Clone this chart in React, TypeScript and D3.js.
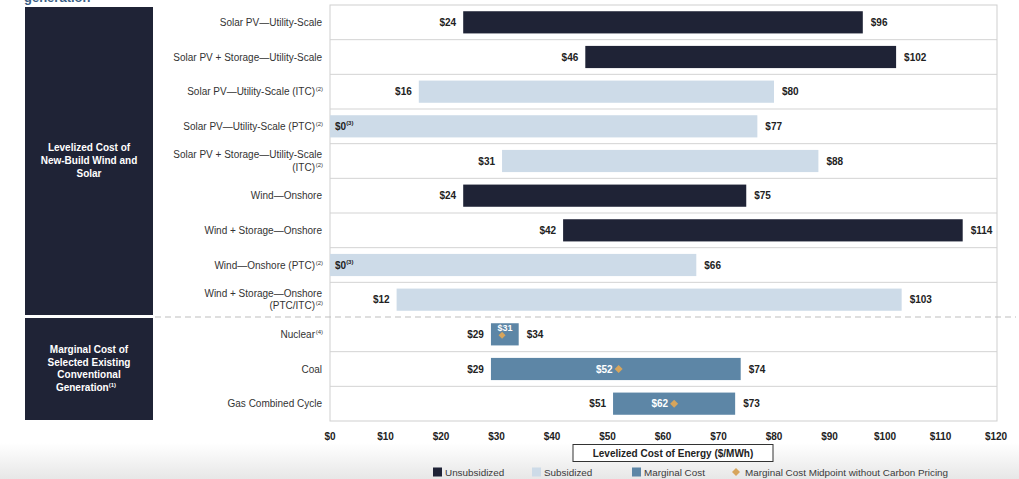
import React from "react";
import * as d3 from "d3";

const categories = [
  "Solar PV—Utility-Scale",
  "Solar PV + Storage—Utility-Scale",
  "Solar PV—Utility-Scale (ITC)",
  "Solar PV—Utility-Scale (PTC)",
  "Solar PV + Storage—Utility-Scale (ITC)",
  "Wind—Onshore",
  "Wind + Storage—Onshore",
  "Wind—Onshore (PTC)",
  "Wind + Storage—Onshore (PTC/ITC)",
  "Nuclear",
  "Coal",
  "Gas Combined Cycle",
];
// display lines and footnote for each label
const labelLines: string[][] = [
  ["Solar PV—Utility-Scale"],
  ["Solar PV + Storage—Utility-Scale"],
  ["Solar PV—Utility-Scale (ITC)"],
  ["Solar PV—Utility-Scale (PTC)"],
  ["Solar PV + Storage—Utility-Scale", "(ITC)"],
  ["Wind—Onshore"],
  ["Wind + Storage—Onshore"],
  ["Wind—Onshore (PTC)"],
  ["Wind + Storage—Onshore", "(PTC/ITC)"],
  ["Nuclear"],
  ["Coal"],
  ["Gas Combined Cycle"],
];
const labelNotes = ["", "", "(2)", "(2)", "(2)", "", "", "(2)", "(2)", "(4)", "", ""];
const lows = [24, 46, 16, 0, 31, 24, 42, 0, 12, 29, 29, 51];
const highs = [96, 102, 80, 77, 88, 75, 114, 66, 103, 34, 74, 73];
const lowNotes = ["", "", "", "(3)", "", "", "", "(3)", "", "", "", ""];
const types = ["unsub", "unsub", "sub", "sub", "sub", "unsub", "unsub", "sub", "sub", "marg", "marg", "marg"];
const midpoints: (number | null)[] = [null, null, null, null, null, null, null, null, null, 31, 52, 62];
const xTicks = [0, 10, 20, 30, 40, 50, 60, 70, 80, 90, 100, 110, 120];

const legendItems = [
  { key: "unsub", label: "Unsubsidized" },
  { key: "sub", label: "Subsidized" },
  { key: "marg", label: "Marginal Cost" },
  { key: "mid", label: "Marginal Cost Midpoint without Carbon Pricing" },
];

const colors: Record<string, string> = {
  unsub: "#1f2336",
  sub: "#cddbe8",
  marg: "#5d86a6",
  mid: "#d7a55c",
};

const FONT = "'Liberation Sans', Arial, sans-serif";

export default function App() {
  const W = 1019;
  const H = 479;
  const x = d3.scaleLinear().domain([0, 120]).range([330, 996]);
  const y = d3.scaleBand<string>().domain(categories).range([5, 421]).padding(0);
  const bw = y.bandwidth();
  const barH = bw * 0.64;
  const frameRight = 997;

  const diamond = (cx: number, cy: number, r = 4) =>
    `M${cx},${cy - r}L${cx + r},${cy}L${cx},${cy + r}L${cx - r},${cy}Z`;

  const sepIdx = 9; // dashed separator before this row
  const sepY = y(categories[sepIdx])!;

  return (
    <svg width={W} height={H} style={{ display: "block", position: "absolute", left: 0, top: 0 }} fontFamily={FONT}>
      <defs>
        <linearGradient id="bg" x1="0" y1="0" x2="0" y2="1">
          <stop offset="0" stopColor="#ffffff" />
          <stop offset="1" stopColor="#e7e7e7" />
        </linearGradient>
      </defs>
      <rect x={0} y={0} width={W} height={H} fill="#fff" />
      <rect x={0} y={443} width={W} height={H - 443} fill="url(#bg)" />

      {/* cut-off title */}
      <text x={24} y={2} fontSize={13} fontWeight="bold" fill="#3b5f86">generation</text>

      {/* left category boxes */}
      <rect x={25} y={7} width={128} height={sepY - 9} fill="#1f2336" />
      <rect x={25} y={sepY + 1} width={128} height={420 - sepY - 1} fill="#1f2336" />
      <text fill="#fff" fontSize={10} fontWeight="bold" textAnchor="middle">
        <tspan x={89} y={151}>Levelized Cost of</tspan>
        <tspan x={89} y={164}>New-Build Wind and</tspan>
        <tspan x={89} y={177}>Solar</tspan>
      </text>
      <text fill="#fff" fontSize={10} fontWeight="bold" textAnchor="middle">
        <tspan x={89} y={353}>Marginal Cost of</tspan>
        <tspan x={89} y={365.5}>Selected Existing</tspan>
        <tspan x={89} y={378}>Conventional</tspan>
        <tspan x={86} y={390.5}>Generation</tspan>
        <tspan fontSize={6} dy={-4}>(1)</tspan>
      </text>

      {/* frame */}
      <rect x={330} y={5} width={frameRight - 330} height={416} fill="none" stroke="#cfcfcf" strokeWidth={1} />
      {categories.map((c, i) =>
        i > 0 && i !== sepIdx ? (
          <line key={"sep" + i} x1={330} x2={frameRight} y1={y(c)!} y2={y(c)!} stroke="#d3d3d3" strokeWidth={1} />
        ) : null
      )}
      <line x1={155} x2={1016} y1={sepY} y2={sepY} stroke="#bdbdbd" strokeWidth={1.2} strokeDasharray="6,4" />

      {/* row labels */}
      {categories.map((c, i) => {
        const cy = y(c)! + bw / 2;
        const lines = labelLines[i];
        const lh = 12.5;
        const y0 = cy - ((lines.length - 1) * lh) / 2 + 3.5;
        return (
          <text key={"lbl" + i} textAnchor="end" fontSize={10} fill="#333">
            {lines.map((l, j) => (
              <tspan key={j} x={labelNotes[i] && j === lines.length - 1 ? 315 : 322} y={y0 + j * lh}>
                {l}
              </tspan>
            ))}
          </text>
        );
      })}
      {categories.map((c, i) => {
        if (!labelNotes[i]) return null;
        const cy = y(c)! + bw / 2;
        const lines = labelLines[i];
        const lh = 12.5;
        const y0 = cy - ((lines.length - 1) * lh) / 2 + 3.5 + (lines.length - 1) * lh;
        return (
          <text key={"note" + i} x={323} y={y0 - 4} fontSize={6} fill="#333" textAnchor="end">
            {labelNotes[i]}
          </text>
        );
      })}

      {/* bars */}
      {categories.map((c, i) => {
        const cy = y(c)! + bw / 2;
        const x0 = x(lows[i]);
        const x1 = x(highs[i]);
        return (
          <g key={"bar" + i}>
            <rect x={x0} y={cy - barH / 2} width={x1 - x0} height={barH} fill={colors[types[i]]} />
            {lows[i] === 0 ? (
              <text x={x0 + 5} y={cy + 3.5} fontSize={10} fontWeight="bold" fill="#222">
                ${lows[i]}
                <tspan fontSize={6} dy={-5}>{lowNotes[i]}</tspan>
              </text>
            ) : (
              <text x={x0 - 7} y={cy + 3.5} fontSize={10} fontWeight="bold" fill="#222" textAnchor="end">
                ${lows[i]}
              </text>
            )}
            <text x={x1 + 8} y={cy + 3.5} fontSize={10} fontWeight="bold" fill="#222">
              ${highs[i]}
            </text>
          </g>
        );
      })}

      {/* midpoints */}
      {categories.map((c, i) => {
        const m = midpoints[i];
        if (m === null) return null;
        const cy = y(c)! + bw / 2;
        const narrow = highs[i] - lows[i] < 10;
        return (
          <g key={"mid" + i}>
            {narrow ? (
              <>
                <path d={diamond(x(m), cy + 1, 3.5)} fill={colors.mid} />
                <text x={x(m) + 3} y={cy - 3} fontSize={9} fontWeight="bold" fill="#fff" textAnchor="middle">
                  ${m}
                </text>
              </>
            ) : (
              <>
                <path d={diamond(x(m), cy, 4)} fill={colors.mid} />
                <text x={x(m) - 6} y={cy + 3.5} fontSize={10} fontWeight="bold" fill="#fff" textAnchor="end">
                  ${m}
                </text>
              </>
            )}
          </g>
        );
      })}

      {/* x tick labels */}
      {xTicks.map((t) => (
        <text key={"t" + t} x={x(t)} y={440} fontSize={10} fontWeight="bold" fill="#222" textAnchor="middle">
          ${t}
        </text>
      ))}

      {/* axis title */}
      <rect x={573} y={444.5} width={200} height={17} fill="#fff" stroke="#333" strokeWidth={1} />
      <text x={673} y={457} fontSize={10} fontWeight="bold" fill="#222" textAnchor="middle">
        Levelized Cost of Energy ($/MWh)
      </text>

      {/* legend */}
      {(() => {
        const xs = [433, 532, 632, 732];
        return legendItems.map((it, i) => (
          <g key={"lg" + i}>
            {it.key === "mid" ? (
              <path d={diamond(xs[i] + 4, 472, 4)} fill={colors.mid} />
            ) : (
              <rect x={xs[i]} y={467.5} width={9} height={9} fill={colors[it.key]} />
            )}
            <text x={xs[i] + (it.key === "mid" ? 13 : 12)} y={476} fontSize={9.9} fill="#3a3a3a">
              {it.label}
            </text>
          </g>
        ));
      })()}
    </svg>
  );
}
